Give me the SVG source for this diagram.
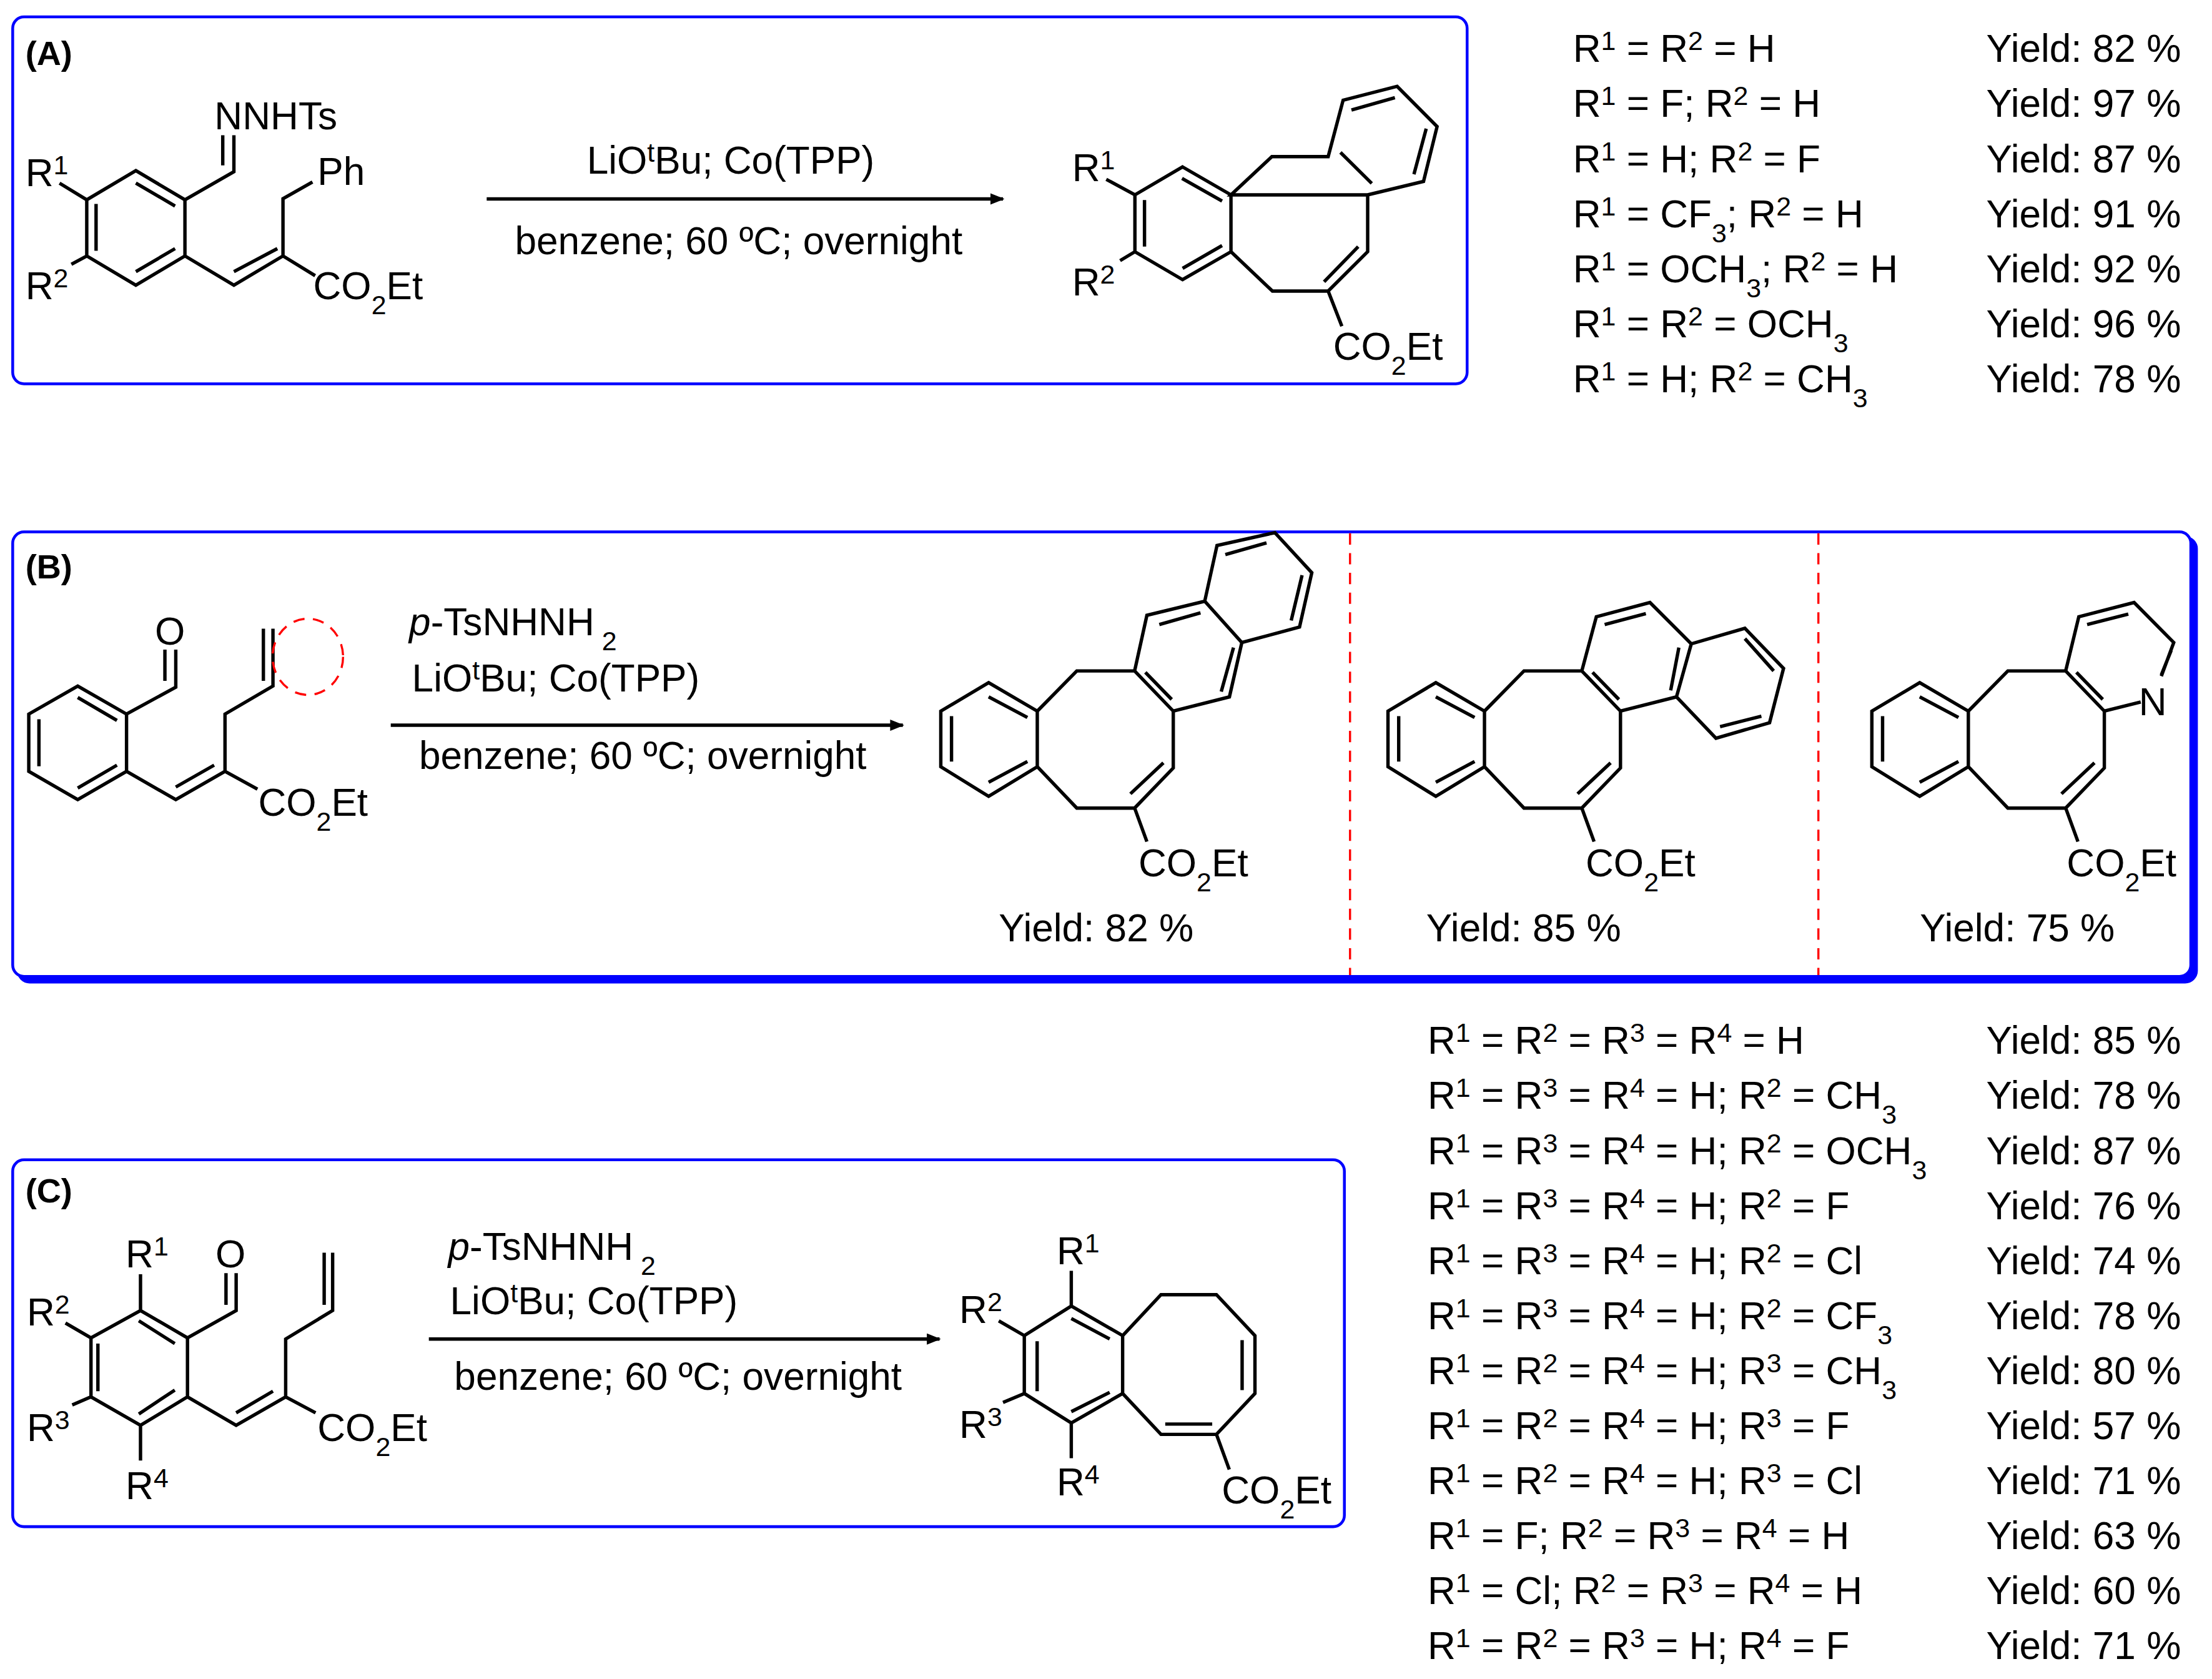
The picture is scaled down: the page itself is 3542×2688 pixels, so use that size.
<svg xmlns="http://www.w3.org/2000/svg" width="3542" height="2688" viewBox="0 0 3542 2688">
<defs>
<style>
text{font-family:"Liberation Sans",Arial,sans-serif;font-size:27.5px;fill:#000}
.lbl{font-weight:bold;font-size:24px}
.sup{font-size:19px;baseline-shift:45%}
.sub{font-size:19px;baseline-shift:sub}
.b{fill:none;stroke:#000;stroke-width:2.4;stroke-linejoin:miter;stroke-linecap:butt}
.box{fill:none;stroke:#0000ff;stroke-width:2}
.red{fill:none;stroke:#ff0000;stroke-width:1.5;stroke-dasharray:8 6}
.arr{stroke:#000;stroke-width:2.4}
</style>
<marker id="ah" markerWidth="10" markerHeight="8" refX="9" refY="4" orient="auto" markerUnits="userSpaceOnUse"><path d="M0,0 L10,4 L0,8 Z" fill="#000"/></marker>
</defs>
<rect width="3542" height="2688" fill="#fff"/>
<g transform="scale(2.2589)">
<g id="boxA"><rect class="box" x="9" y="12" width="1031" height="260" rx="8"/><text class="lbl" x="18" y="46">(A)</text></g>
<g id="boxB"><rect x="13" y="381" width="1544" height="315" rx="8" fill="#0000ff" stroke="#0000ff" stroke-width="2"/><rect x="9" y="377" width="1544" height="315" rx="8" fill="#fff" stroke="#0000ff" stroke-width="2"/><text class="lbl" x="18" y="410">(B)</text>
<line class="red" x1="957" y1="378" x2="957" y2="691"/><line class="red" x1="1289" y1="378" x2="1289" y2="691"/></g>
<g id="boxC"><rect class="box" x="9" y="822" width="944" height="260" rx="8"/><text class="lbl" x="18" y="852">(C)</text></g>

<g id="reactA">
<path class="b" d="M96.3,120.9 L131.1,141.6 L131.1,181.4 L96.3,202.1 L61.5,181.4 L61.5,141.6 Z M96.3,129.8 L124.1,146 M68.1,144.5 L68.1,177.7 M96.3,192.5 L124.1,176.2 M61.5,141.6 L42.2,129.8 M61.5,181.4 L50.6,187.3 M131.1,141.6 L165.8,121.7 L165.8,95.8 M157.9,117.2 L157.9,95.8 M131.1,181.4 L165.8,202.1 L200.6,181.4 M165.8,192.5 L196.6,176.2 M200.6,181.4 L200.6,140.8 L221.5,129 M200.6,181.4 L223.4,195.4"/>
<text x="18" y="132">R<tspan class="sup">1</tspan></text>
<text x="18" y="212">R<tspan class="sup">2</tspan></text>
<text x="152" y="91.7">NNHTs</text>
<text x="225" y="131">Ph</text>
<text x="222" y="212">CO<tspan class="sub">2</tspan>Et</text>
</g>
<g id="condA">
<text x="416" y="123">LiO<tspan class="sup">t</tspan>Bu; Co(TPP)</text>
<text x="365" y="180">benzene; 60 ºC; overnight</text>
</g>
<g id="prodA">
<path class="b" d="M838.3,118.3 L872.6,138.1 L872.6,178.4 L838.3,198.2 L804.5,178.4 L804.5,138.1 Z M837.9,126.4 L866.3,142.5 M811.3,141.8 L811.3,174.8 M838.3,190.2 L866.3,174 M804.5,138.1 L784.2,127.1 M804.5,178.4 L794,184.7 M872.6,138.1 L901.6,111 L941.5,111 L952.1,71 L990.4,61.2 L1018.7,89.7 L1009.1,128.6 L969.5,138.1 Z M950.2,108 L972.4,130 M958,78 L988.8,69.2 M1011,91.2 L1002.3,123.5 M969.5,138.1 L969.5,178.4 L941.5,206.3 L902,206.3 L872.6,178.4 M962.8,174.8 L938.6,199.7 M941.5,206.3 L951.2,231.2"/>
<text x="760" y="128.6">R<tspan class="sup">1</tspan></text>
<text x="760" y="209.2">R<tspan class="sup">2</tspan></text>
<text x="945" y="255">CO<tspan class="sub">2</tspan>Et</text>
</g>
<g id="connectors">
<line class="arr" x1="345" y1="141" x2="711" y2="141" marker-end="url(#ah)"/>
<line class="arr" x1="277" y1="514" x2="640" y2="514" marker-end="url(#ah)"/>
<line class="arr" x1="304" y1="949" x2="666" y2="949" marker-end="url(#ah)"/>
</g>
<g id="listA">
<text x="1115" y="44">R<tspan class="sup">1</tspan><tspan> = R</tspan><tspan class="sup">2</tspan><tspan> = H</tspan></text>
<text x="1115" y="83">R<tspan class="sup">1</tspan><tspan> = F; R</tspan><tspan class="sup">2</tspan><tspan> = H</tspan></text>
<text x="1115" y="122">R<tspan class="sup">1</tspan><tspan> = H; R</tspan><tspan class="sup">2</tspan><tspan> = F</tspan></text>
<text x="1115" y="161">R<tspan class="sup">1</tspan><tspan> = CF</tspan><tspan class="sub">3</tspan><tspan>; R</tspan><tspan class="sup">2</tspan><tspan> = H</tspan></text>
<text x="1115" y="200">R<tspan class="sup">1</tspan><tspan> = OCH</tspan><tspan class="sub">3</tspan><tspan>; R</tspan><tspan class="sup">2</tspan><tspan> = H</tspan></text>
<text x="1115" y="239">R<tspan class="sup">1</tspan><tspan> = R</tspan><tspan class="sup">2</tspan><tspan> = OCH</tspan><tspan class="sub">3</tspan></text>
<text x="1115" y="278">R<tspan class="sup">1</tspan><tspan> = H; R</tspan><tspan class="sup">2</tspan><tspan> = CH</tspan><tspan class="sub">3</tspan></text>
<text x="1408" y="44">Yield: 82 %</text>
<text x="1408" y="83">Yield: 97 %</text>
<text x="1408" y="122">Yield: 87 %</text>
<text x="1408" y="161">Yield: 91 %</text>
<text x="1408" y="200">Yield: 92 %</text>
<text x="1408" y="239">Yield: 96 %</text>
<text x="1408" y="278">Yield: 78 %</text>
</g>
<g id="reactB">
<path class="b" d="M55.1,486.2 L89.7,506.1 L89.7,546.7 L55.1,566.7 L20.4,546.7 L20.4,506.1 Z M55.1,494.3 L82.9,510.6 M27.6,509.8 L27.6,543.1 M55.1,558.5 L82.9,542.3 M89.7,506.1 L124.6,487 L124.6,460.4 M116.9,460.4 L116.9,482.5 M89.7,546.7 L124.6,566.7 L159.5,546.7 M124.6,557.8 L151.8,542.3 M159.5,546.7 L159.5,506.1 L193.5,486.2 L193.5,445.6 M186.7,445.6 L186.7,482.5 M159.5,546.7 L182.5,559.3"/>
<ellipse class="red" cx="218.2" cy="465.5" rx="25" ry="27"/>
<text x="120.5" y="456.7" text-anchor="middle">O</text>
<text x="183" y="578">CO<tspan class="sub">2</tspan>Et</text>
</g>
<g id="condB">
<text x="290" y="450"><tspan font-style="italic">p</tspan>-TsNHNH<tspan class="sub"> 2</tspan></text>
<text x="292" y="490">LiO<tspan class="sup">t</tspan>Bu; Co(TPP)</text>
<text x="297" y="545">benzene; 60 ºC; overnight</text>
</g>
<g id="prodB1">
<path id="core" class="b" d="M700.8,483.8 L735.3,504 L735.3,543.4 L700.8,564.4 L666.9,543.4 L666.9,504 Z M700.8,493.9 L728.3,508.5 M674.5,507.6 L674.5,539.7 M700.8,554.4 L728.3,539.7 M735.3,504 L763.3,475.5 L804.3,475.5 L831.7,504 L831.7,544.3 L804.3,572.7 L763.3,572.7 L735.3,543.4 M801.3,562.6 L824.7,540.6 M811.9,476.5 L830.6,495.7 M804.3,572.7 L813,596.5"/>
<path class="b" d="M804.3,475.5 L813,436.1 L854,426.1 L880.3,455.4 L871.5,493.9 L831.7,504 M821.8,442.6 L851,434.3 M874.4,459 L865.7,490.2 M854,426.1 L862.7,386.6 L903.7,377.5 L929.9,405.9 L921.2,444.4 L880.3,455.4 M868.6,393.1 L897.8,384.8 M923,407.7 L915.3,439.8"/>
<text x="807" y="621">CO<tspan class="sub">2</tspan>Et</text>
<text x="708" y="667">Yield: 82 %</text>
</g>
<g id="prodB2">
<g transform="translate(317,0)">
<use href="#core"/>
<path class="b" d="M804.3,475.5 L814.6,437.1 L852.6,427 L881.9,456.3 L871.4,493.9 L831.7,504 M820.5,442.6 L849.7,434.9 M873.1,459 L867.3,489.3 M881.9,456.3 L919.9,445.3 L947.3,473.7 L937.4,512.2 L899.4,523.2 L871.4,493.9 M919.9,452.6 L940.3,475.5 M902.3,515 L931.6,507.6"/>
<text x="807" y="621">CO<tspan class="sub">2</tspan>Et</text>
</g>
<text x="1011" y="667">Yield: 85 %</text>
</g>
<g id="prodB3">
<g transform="translate(660,0)">
<use href="#core"/>
<path class="b" d="M804.3,475.5 L813.6,437.1 L852.8,427 L880.9,455.4 L872.1,479.2 M831.7,504 L857.5,497.5 M819.5,442.6 L848.7,435.2 M879.1,460.9 L872.1,478.3"/>
<text x="866" y="507" text-anchor="middle">N</text>
<text x="805" y="621">CO<tspan class="sub">2</tspan>Et</text>
</g>
<text x="1361" y="667">Yield: 75 %</text>
</g>
<g id="reactC">
<path class="b" d="M99.6,928.8 L132.9,948.2 L132.9,990 L99.6,1010.2 L64.5,990 L64.5,948.2 Z M98.4,936.1 L123.9,952.2 M69.4,952.2 L69.4,986 M98.4,1002.1 L123.9,985.2 M99.6,928.8 L99.6,903.1 M132.9,948.2 L167.4,928.8 L167.4,902.3 M160.2,902.3 L160.2,924.8 M64.5,948.2 L46.4,937.7 M64.5,990 L51.2,995.7 M99.6,1010.2 L99.6,1035.1 M132.9,990 L167.4,1010.2 L202.5,990 M167.4,1001.3 L193.5,986 M202.5,990 L202.5,949 L235.8,928.8 L235.8,887.8 M229.8,887.8 L229.8,924.8 M202.5,990 L223.7,1001.3"/>
<text x="89" y="898.3">R<tspan class="sup">1</tspan></text>
<text x="163.4" y="898.3" text-anchor="middle">O</text>
<text x="19" y="939.3">R<tspan class="sup">2</tspan></text>
<text x="19" y="1021.4">R<tspan class="sup">3</tspan></text>
<text x="89" y="1062.5">R<tspan class="sup">4</tspan></text>
<text x="225" y="1021.4">CO<tspan class="sub">2</tspan>Et</text>
</g>
<g id="condC">
<text x="317.6" y="893"><tspan font-style="italic">p</tspan>-TsNHNH<tspan class="sub"> 2</tspan></text>
<text x="319" y="931.3">LiO<tspan class="sup">t</tspan>Bu; Co(TPP)</text>
<text x="322" y="985">benzene; 60 ºC; overnight</text>
</g>
<g id="prodC">
<path class="b" d="M759.4,925.6 L795.8,946.6 L795.8,987.6 L759.4,1008.5 L726.1,987.6 L726.1,946.6 Z M759.4,934.5 L786.6,949 M735.2,950.6 L735.2,986 M759.4,1000.5 L786.6,986.8 M759.4,925.6 L759.4,900.7 M726.1,946.6 L708,936.1 M726.1,987.6 L711,994 M759.4,1008.5 L759.4,1033.5 M795.8,946.6 L823,917.6 L862.3,917.6 L889.6,946.6 L889.6,987.6 L862.3,1016.6 L823,1016.6 L795.8,987.6 M880.5,949.8 L880.5,985.2 M826,1009.3 L859.3,1009.3 M862.3,1016.6 L871.4,1041.5"/>
<text x="749" y="895.8">R<tspan class="sup">1</tspan></text>
<text x="680" y="937.7">R<tspan class="sup">2</tspan></text>
<text x="680" y="1019">R<tspan class="sup">3</tspan></text>
<text x="749" y="1060">R<tspan class="sup">4</tspan></text>
<text x="866" y="1065.7">CO<tspan class="sub">2</tspan>Et</text>
</g>
<g id="listC">
<text x="1012" y="747">R<tspan class="sup">1</tspan><tspan> = R</tspan><tspan class="sup">2</tspan><tspan> = R</tspan><tspan class="sup">3</tspan><tspan> = R</tspan><tspan class="sup">4</tspan><tspan> = H</tspan></text>
<text x="1012" y="786">R<tspan class="sup">1</tspan><tspan> = R</tspan><tspan class="sup">3</tspan><tspan> = R</tspan><tspan class="sup">4</tspan><tspan> = H; R</tspan><tspan class="sup">2</tspan><tspan> = CH</tspan><tspan class="sub">3</tspan></text>
<text x="1012" y="825">R<tspan class="sup">1</tspan><tspan> = R</tspan><tspan class="sup">3</tspan><tspan> = R</tspan><tspan class="sup">4</tspan><tspan> = H; R</tspan><tspan class="sup">2</tspan><tspan> = OCH</tspan><tspan class="sub">3</tspan></text>
<text x="1012" y="864">R<tspan class="sup">1</tspan><tspan> = R</tspan><tspan class="sup">3</tspan><tspan> = R</tspan><tspan class="sup">4</tspan><tspan> = H; R</tspan><tspan class="sup">2</tspan><tspan> = F</tspan></text>
<text x="1012" y="903">R<tspan class="sup">1</tspan><tspan> = R</tspan><tspan class="sup">3</tspan><tspan> = R</tspan><tspan class="sup">4</tspan><tspan> = H; R</tspan><tspan class="sup">2</tspan><tspan> = Cl</tspan></text>
<text x="1012" y="942">R<tspan class="sup">1</tspan><tspan> = R</tspan><tspan class="sup">3</tspan><tspan> = R</tspan><tspan class="sup">4</tspan><tspan> = H; R</tspan><tspan class="sup">2</tspan><tspan> = CF</tspan><tspan class="sub">3</tspan></text>
<text x="1012" y="981">R<tspan class="sup">1</tspan><tspan> = R</tspan><tspan class="sup">2</tspan><tspan> = R</tspan><tspan class="sup">4</tspan><tspan> = H; R</tspan><tspan class="sup">3</tspan><tspan> = CH</tspan><tspan class="sub">3</tspan></text>
<text x="1012" y="1020">R<tspan class="sup">1</tspan><tspan> = R</tspan><tspan class="sup">2</tspan><tspan> = R</tspan><tspan class="sup">4</tspan><tspan> = H; R</tspan><tspan class="sup">3</tspan><tspan> = F</tspan></text>
<text x="1012" y="1059">R<tspan class="sup">1</tspan><tspan> = R</tspan><tspan class="sup">2</tspan><tspan> = R</tspan><tspan class="sup">4</tspan><tspan> = H; R</tspan><tspan class="sup">3</tspan><tspan> = Cl</tspan></text>
<text x="1012" y="1098">R<tspan class="sup">1</tspan><tspan> = F; R</tspan><tspan class="sup">2</tspan><tspan> = R</tspan><tspan class="sup">3</tspan><tspan> = R</tspan><tspan class="sup">4</tspan><tspan> = H</tspan></text>
<text x="1012" y="1137">R<tspan class="sup">1</tspan><tspan> = Cl; R</tspan><tspan class="sup">2</tspan><tspan> = R</tspan><tspan class="sup">3</tspan><tspan> = R</tspan><tspan class="sup">4</tspan><tspan> = H</tspan></text>
<text x="1012" y="1176">R<tspan class="sup">1</tspan><tspan> = R</tspan><tspan class="sup">2</tspan><tspan> = R</tspan><tspan class="sup">3</tspan><tspan> = H; R</tspan><tspan class="sup">4</tspan><tspan> = F</tspan></text>
<text x="1408" y="747">Yield: 85 %</text>
<text x="1408" y="786">Yield: 78 %</text>
<text x="1408" y="825">Yield: 87 %</text>
<text x="1408" y="864">Yield: 76 %</text>
<text x="1408" y="903">Yield: 74 %</text>
<text x="1408" y="942">Yield: 78 %</text>
<text x="1408" y="981">Yield: 80 %</text>
<text x="1408" y="1020">Yield: 57 %</text>
<text x="1408" y="1059">Yield: 71 %</text>
<text x="1408" y="1098">Yield: 63 %</text>
<text x="1408" y="1137">Yield: 60 %</text>
<text x="1408" y="1176">Yield: 71 %</text>
</g>
</g>
</svg>
